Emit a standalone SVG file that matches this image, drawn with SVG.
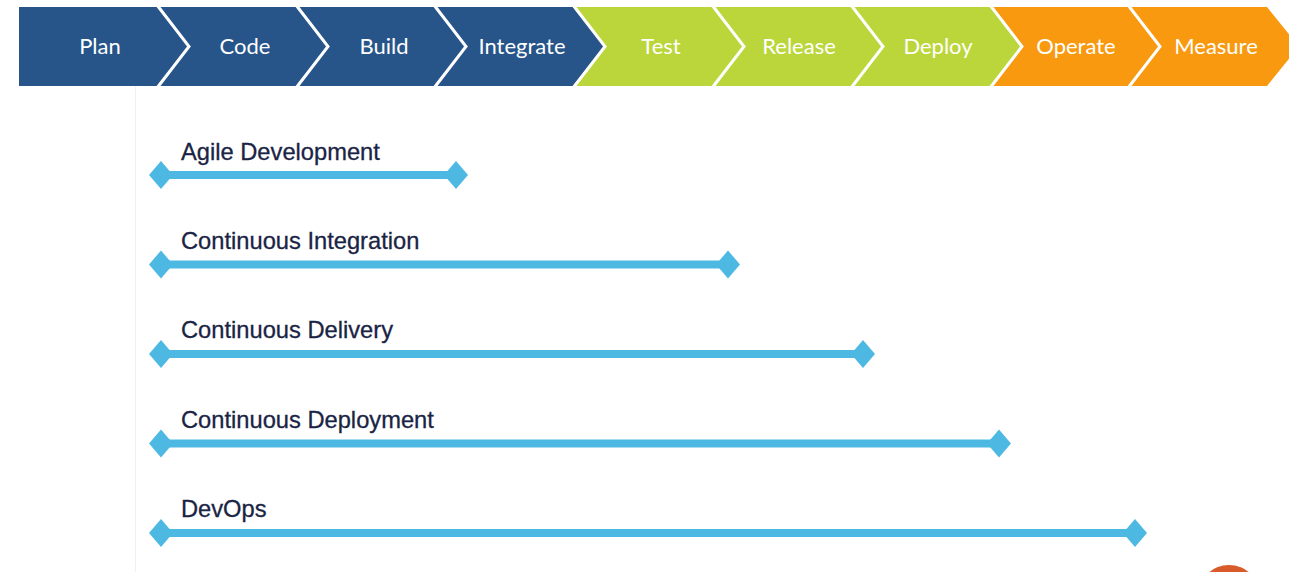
<svg xmlns="http://www.w3.org/2000/svg" width="1289" height="572" viewBox="0 0 1289 572">
<style>
.blue{fill:#27558A}
.green{fill:#BBD63A}
.orange{fill:#F8990F}
.sep{fill:none;stroke:#FFFFFF;stroke-width:3}
.stage{font-family:Lato,"Open Sans",sans-serif;font-size:22px;fill:#FFFFFF;text-anchor:middle}
.lbl{font-family:"Liberation Sans",Arial,sans-serif;font-size:23.7px;fill:#1A2444;stroke:#1A2444;stroke-width:0.3}
.bar{stroke:#4DB9E2;stroke-width:8;fill:none}
.dia{fill:#4DB9E2}
</style>
<rect width="1289" height="572" fill="#FFFFFF"/>
<line x1="135.5" y1="86" x2="135.5" y2="572" stroke="#F0F0F0" stroke-width="1"/>
<g id="stages">
<g id="plan"><polygon class="blue" points="19,7 157,7 189,46.5 157,86 19,86"/><text class="stage" x="100" y="54">Plan</text></g>
<g id="code"><polygon class="blue" points="157,7 296,7 328,46.5 296,86 157,86 189,46.5"/><text class="stage" x="245" y="54">Code</text></g>
<g id="build"><polygon class="blue" points="296,7 434,7 466,46.5 434,86 296,86 328,46.5"/><text class="stage" x="384" y="54">Build</text></g>
<g id="integrate"><polygon class="blue" points="434,7 573,7 605,46.5 573,86 434,86 466,46.5"/><text class="stage" x="522" y="54">Integrate</text></g>
<g id="test"><polygon class="green" points="573,7 712,7 744,46.5 712,86 573,86 605,46.5"/><text class="stage" x="661" y="54">Test</text></g>
<g id="release"><polygon class="green" points="712,7 851,7 883,46.5 851,86 712,86 744,46.5"/><text class="stage" x="799" y="54">Release</text></g>
<g id="deploy"><polygon class="green" points="851,7 990,7 1022,46.5 990,86 851,86 883,46.5"/><text class="stage" x="938" y="54">Deploy</text></g>
<g id="operate"><polygon class="orange" points="990,7 1128,7 1160,46.5 1128,86 990,86 1022,46.5"/><text class="stage" x="1076" y="54">Operate</text></g>
<g id="measure"><polygon class="orange" points="1128,7 1267,7 1299,46.5 1267,86 1128,86 1160,46.5"/><text class="stage" x="1216" y="54">Measure</text></g>
</g>
<g id="connectors">
<polyline class="sep" points="157,5 189,46.5 157,88"/>
<polyline class="sep" points="296,5 328,46.5 296,88"/>
<polyline class="sep" points="434,5 466,46.5 434,88"/>
<polyline class="sep" points="573,5 605,46.5 573,88"/>
<polyline class="sep" points="712,5 744,46.5 712,88"/>
<polyline class="sep" points="851,5 883,46.5 851,88"/>
<polyline class="sep" points="990,5 1022,46.5 990,88"/>
<polyline class="sep" points="1128,5 1160,46.5 1128,88"/>
</g>
<g id="agile">
<text class="lbl" x="181" y="160">Agile Development</text>
<line class="bar" x1="161" y1="175" x2="456" y2="175"/>
<polygon class="dia" points="149,175 161,161 173,175 161,189"/>
<polygon class="dia" points="444,175 456,161 468,175 456,189"/>
</g>
<g id="ci">
<text class="lbl" x="181" y="249">Continuous Integration</text>
<line class="bar" x1="161" y1="264.5" x2="728" y2="264.5"/>
<polygon class="dia" points="149,264.5 161,250.5 173,264.5 161,278.5"/>
<polygon class="dia" points="716,264.5 728,250.5 740,264.5 728,278.5"/>
</g>
<g id="cd">
<text class="lbl" x="181" y="338">Continuous Delivery</text>
<line class="bar" x1="161" y1="354" x2="863" y2="354"/>
<polygon class="dia" points="149,354 161,340 173,354 161,368"/>
<polygon class="dia" points="851,354 863,340 875,354 863,368"/>
</g>
<g id="cdep">
<text class="lbl" x="181" y="428">Continuous Deployment</text>
<line class="bar" x1="161" y1="443.5" x2="999" y2="443.5"/>
<polygon class="dia" points="149,443.5 161,429.5 173,443.5 161,457.5"/>
<polygon class="dia" points="987,443.5 999,429.5 1011,443.5 999,457.5"/>
</g>
<g id="devops">
<text class="lbl" x="181" y="517">DevOps</text>
<line class="bar" x1="161" y1="533" x2="1135" y2="533"/>
<polygon class="dia" points="149,533 161,519 173,533 161,547"/>
<polygon class="dia" points="1123,533 1135,519 1147,533 1135,547"/>
</g>
<circle cx="1229" cy="596" r="31" fill="#D95B2B"/>
</svg>
